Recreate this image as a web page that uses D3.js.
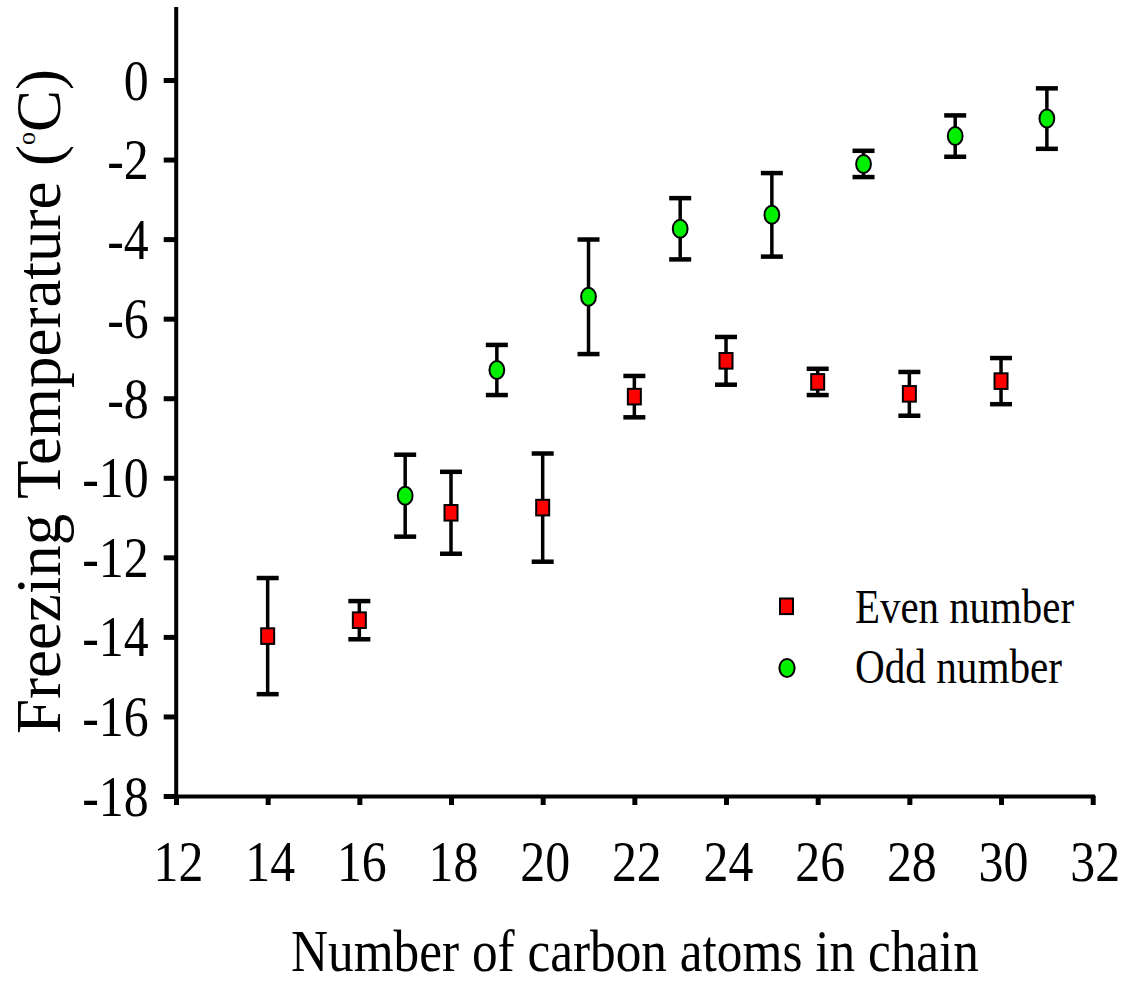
<!DOCTYPE html>
<html>
<head>
<meta charset="utf-8">
<script src="https://cdn.jsdelivr.net/npm/d3@7"></script>
<style>
  html, body { margin: 0; padding: 0; background: #fff; }
  svg { display: block; }
  text { font-family: "Liberation Serif", "Times New Roman", serif; fill: #000; }
</style>
</head>
<body>
<svg id="chart" width="1125" height="983"></svg>
<script>
// Freezing temperature versus chain length, split by even / odd carbon count
const evenCarbons = [14, 16, 18, 20, 22, 24, 26, 28, 30];
const evenMean    = [-13.98, -13.58, -10.88, -10.75, -7.96, -7.06, -7.59, -7.89, -7.57];
const evenErr     = [1.46, 0.48, 1.03, 1.36, 0.52, 0.60, 0.33, 0.55, 0.58];

const oddCarbons = [17, 19, 21, 23, 25, 27, 29, 31];
const oddMean    = [-10.45, -7.29, -5.45, -3.74, -3.39, -2.11, -1.41, -0.97];
const oddErr     = [1.03, 0.63, 1.44, 0.77, 1.05, 0.33, 0.52, 0.76];

const xTicks = [12, 14, 16, 18, 20, 22, 24, 26, 28, 30, 32];
const yTicks = [-18, -16, -14, -12, -10, -8, -6, -4, -2, 0];

const seriesNames = ["Even number", "Odd number"];
const xTitle = "Number of carbon atoms in chain";

const svg = d3.select("#chart");

const x = d3.scaleLinear().domain([12, 32]).range([176, 1092.7]);
const yUnit = (796 - 80) / 18;
const y = d3.scaleLinear().domain([-18, 1.8]).range([796, 80 - 1.8 * yUnit]);

// axes
const xAxis = d3.axisBottom(x).tickValues(xTicks).tickSize(9).tickSizeOuter(0)
  .tickFormat(d => String(d));
const yAxis = d3.axisLeft(y).tickValues(yTicks).tickSize(12).tickSizeOuter(0)
  .tickFormat(d => String(d));

const gx = svg.append("g").attr("transform", "translate(0,796)").call(xAxis);
const gy = svg.append("g").attr("transform", "translate(175.7,0)").call(yAxis);

[gx, gy].forEach(g => {
  g.select(".domain").attr("stroke", "#000").attr("stroke-width", 4).attr("stroke-linecap", "square");
  g.selectAll(".tick line").attr("stroke", "#000").attr("stroke-width", 5);
});

gx.selectAll(".tick text")
  .attr("y", null).attr("dy", null)
  .attr("text-anchor", "middle")
  .attr("font-size", 56)
  .attr("transform", "translate(2,85) scale(0.89,1)");

gy.selectAll(".tick text")
  .attr("x", null).attr("dy", null)
  .attr("text-anchor", "end")
  .attr("font-size", 56)
  .attr("transform", "translate(-27,19) scale(0.89,1)");

// error bars + markers
function drawSeries(xs, means, errs, kind) {
  const data = xs.map((c, i) => ({ c, m: means[i], e: errs[i] }));
  const g = svg.append("g");
  const bars = g.selectAll("g.bar").data(data).join("g").attr("class", "bar");
  bars.append("line")
    .attr("x1", d => x(d.c)).attr("x2", d => x(d.c))
    .attr("y1", d => y(d.m + d.e)).attr("y2", d => y(d.m - d.e))
    .attr("stroke", "#000").attr("stroke-width", 3.5);
  [1, -1].forEach(s => {
    bars.append("line")
      .attr("x1", d => x(d.c) - 11).attr("x2", d => x(d.c) + 11)
      .attr("y1", d => y(d.m + s * d.e)).attr("y2", d => y(d.m + s * d.e))
      .attr("stroke", "#000").attr("stroke-width", 4.5);
  });
  if (kind === "square") {
    bars.append("rect")
      .attr("x", d => x(d.c) - 6.5).attr("y", d => y(d.m) - 7.8)
      .attr("width", 13).attr("height", 15.6)
      .attr("fill", "#ff0000").attr("stroke", "#000").attr("stroke-width", 2);
  } else {
    bars.append("ellipse")
      .attr("cx", d => x(d.c)).attr("cy", d => y(d.m))
      .attr("rx", 7.4).attr("ry", 9)
      .attr("fill", "#00f000").attr("stroke", "#000").attr("stroke-width", 2);
  }
}

drawSeries(evenCarbons, evenMean, evenErr, "square");
drawSeries(oddCarbons, oddMean, oddErr, "circle");

// legend
const leg = svg.append("g");
leg.append("rect").attr("x", 780).attr("y", 598.5).attr("width", 13).attr("height", 15.6)
  .attr("fill", "#ff0000").attr("stroke", "#000").attr("stroke-width", 2);
leg.append("ellipse").attr("cx", 787).attr("cy", 668).attr("rx", 7.6).attr("ry", 9)
  .attr("fill", "#00f000").attr("stroke", "#000").attr("stroke-width", 2);
leg.append("text").attr("x", 855).attr("y", 622.7).attr("font-size", 49.5)
  .attr("textLength", 219).attr("lengthAdjust", "spacingAndGlyphs").text(seriesNames[0]);
leg.append("text").attr("x", 855).attr("y", 683).attr("font-size", 49.5)
  .attr("textLength", 207).attr("lengthAdjust", "spacingAndGlyphs").text(seriesNames[1]);

// axis titles
svg.append("text")
  .attr("x", 291).attr("y", 971)
  .attr("font-size", 60)
  .attr("textLength", 688).attr("lengthAdjust", "spacingAndGlyphs")
  .text(xTitle);

const yt = svg.append("text")
  .attr("transform", "translate(60,401.5) rotate(-90)")
  .attr("text-anchor", "middle")
  .attr("font-size", 63);
yt.append("tspan").text("Freezing Temperature (");
yt.append("tspan").attr("font-size", 26).attr("dy", -25).text("o");
yt.append("tspan").attr("dy", 25).text("C)");
</script>
</body>
</html>
